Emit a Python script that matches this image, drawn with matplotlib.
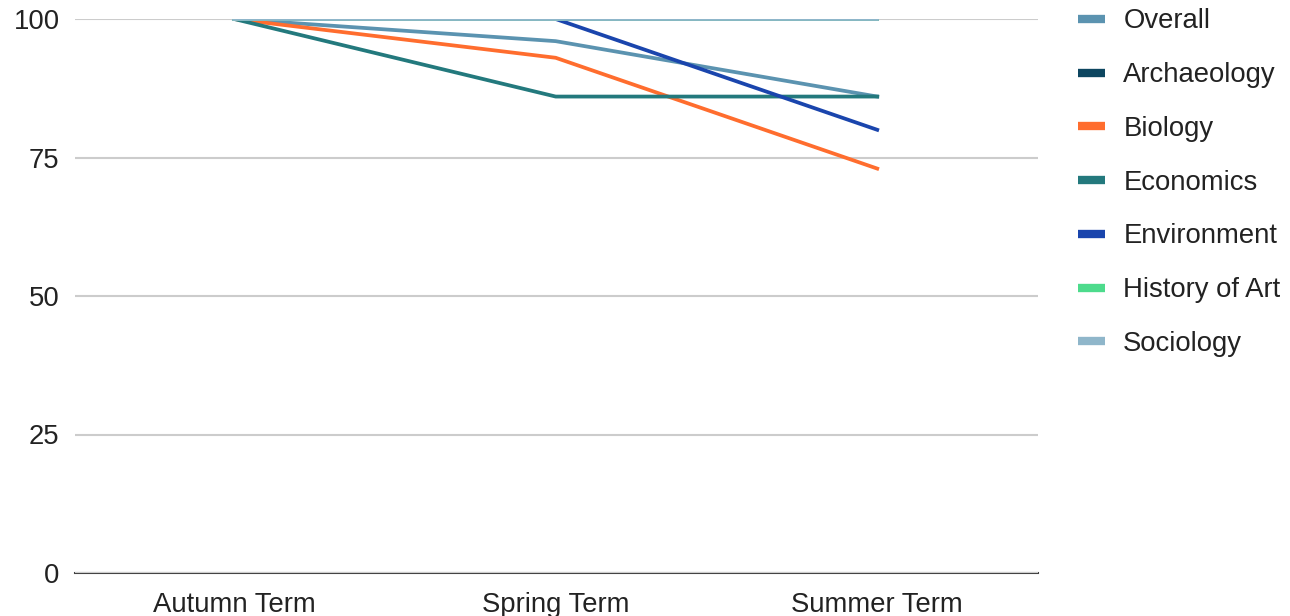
import numpy as np
import matplotlib
matplotlib.use("Agg")
import matplotlib.pyplot as plt

plt.rcParams["font.family"] = ["Liberation Sans", "DejaVu Sans"]

# retention by term, percent of starting cohort
terms = ["Autumn Term", "Spring Term", "Summer Term"]
overall = [100, 96, 86]
archaeology = [100, 100, 100]
biology = [100, 93, 73]
economics = [100, 86, 86]
environment = [np.nan, 100, 80]
history_of_art = [100, 100, 100]
sociology = [100, 100, 100]

series = [
    ("Overall", overall, "#5b93b0"),
    ("Archaeology", archaeology, "#0d4660"),
    ("Biology", biology, "#ff6d2e"),
    ("Economics", economics, "#23797d"),
    ("Environment", environment, "#1a45ad"),
    ("History of Art", history_of_art, "#4ddb8c"),
    ("Sociology", sociology, "#8fb6ca"),
]

fs = 19.8

fig = plt.figure(figsize=(12.9, 6.16), dpi=100)
ax = fig.add_axes([75 / 1290, 1 - 573 / 616, (1038 - 75) / 1290, (573 - 19) / 616])

x = np.arange(len(terms))
for name, vals, color in series:
    ax.plot(x, vals, color=color, linewidth=2.7, label=name, solid_joinstyle="round")

ax.set_xlim(-0.495, 2.5)
ax.set_ylim(0, 100)
ax.set_yticks([0, 25, 50, 75, 100])
ax.set_xticks(x)
ax.set_xticklabels(terms)
ax.tick_params(axis="both", length=0, labelsize=fs, colors="#222222")
ax.tick_params(axis="y", pad=11)
ax.tick_params(axis="x", pad=13.5)
ax.yaxis.grid(True, color="#cccccc", linewidth=1.5)
ax.set_axisbelow(True)
for side in ["top", "right", "left"]:
    ax.spines[side].set_visible(False)
ax.spines["bottom"].set_color("#444444")
ax.spines["bottom"].set_linewidth(1.5)
ax.spines["bottom"].set_zorder(0.5)

leg = ax.legend(loc="upper left", bbox_to_anchor=(1.03, 1.039), frameon=False,
                fontsize=fs, handlelength=1.0, handletextpad=0.65,
                labelspacing=1.01, borderaxespad=0)
for h in leg.get_lines():
    h.set_linewidth(6)
    h.set_solid_capstyle("butt")
for t in leg.get_texts():
    t.set_color("#222222")

fig.savefig("out.png", dpi=100)
